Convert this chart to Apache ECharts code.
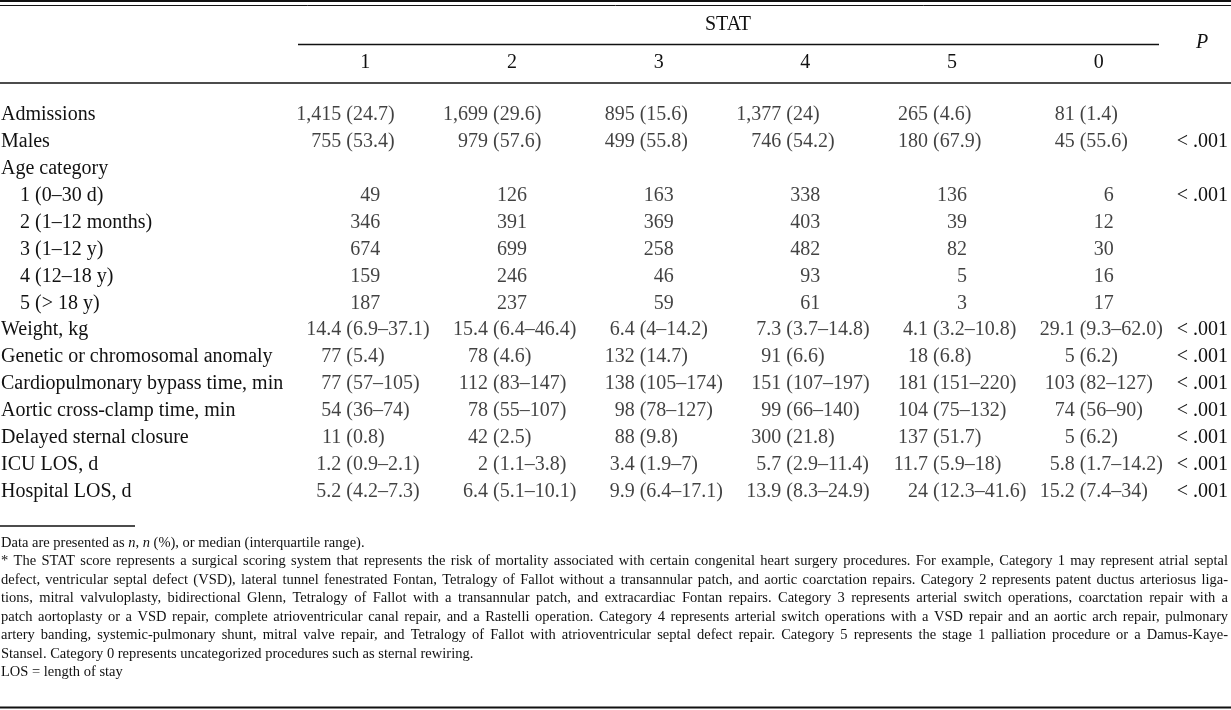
<!DOCTYPE html>
<html>
<head>
<meta charset="utf-8">
<title>STAT table</title>
<script src="https://cdn.jsdelivr.net/npm/echarts@6/dist/echarts.min.js"></script>
<style>
  html, body { margin: 0; padding: 0; background: #fff; }
  #chart { width: 1231px; height: 710px; }
</style>
</head>
<body>
<div id="chart"></div>
<script>
// column / row categories
var statCols = ['1', '2', '3', '4', '5', '0']
var rowLabels = [
  'Admissions', 'Males', 'Age category',
  '1 (0–30 d)', '2 (1–12 months)', '3 (1–12 y)', '4 (12–18 y)', '5 (> 18 y)',
  'Weight, kg', 'Genetic or chromosomal anomaly', 'Cardiopulmonary bypass time, min',
  'Aortic cross-clamp time, min', 'Delayed sternal closure', 'ICU LOS, d', 'Hospital LOS, d'
]
var ageGroups = ['1 (0–30 d)', '2 (1–12 months)', '3 (1–12 y)', '4 (12–18 y)', '5 (> 18 y)']

// cell values, one array per row (order of statCols)
var admissions = ['1,415 (24.7)', '1,699 (29.6)', '895 (15.6)', '1,377 (24)', '265 (4.6)', '81 (1.4)']
var males = ['755 (53.4)', '979 (57.6)', '499 (55.8)', '746 (54.2)', '180 (67.9)', '45 (55.6)']
var age1 = [49, 126, 163, 338, 136, 6]
var age2 = [346, 391, 369, 403, 39, 12]
var age3 = [674, 699, 258, 482, 82, 30]
var age4 = [159, 246, 46, 93, 5, 16]
var age5 = [187, 237, 59, 61, 3, 17]
var weight = ['14.4 (6.9–37.1)', '15.4 (6.4–46.4)', '6.4 (4–14.2)', '7.3 (3.7–14.8)', '4.1 (3.2–10.8)', '29.1 (9.3–62.0)']
var genetic = ['77 (5.4)', '78 (4.6)', '132 (14.7)', '91 (6.6)', '18 (6.8)', '5 (6.2)']
var bypass = ['77 (57–105)', '112 (83–147)', '138 (105–174)', '151 (107–197)', '181 (151–220)', '103 (82–127)']
var clamp = ['54 (36–74)', '78 (55–107)', '98 (78–127)', '99 (66–140)', '104 (75–132)', '74 (56–90)']
var delayed = ['11 (0.8)', '42 (2.5)', '88 (9.8)', '300 (21.8)', '137 (51.7)', '5 (6.2)']
var icuLos = ['1.2 (0.9–2.1)', '2 (1.1–3.8)', '3.4 (1.9–7)', '5.7 (2.9–11.4)', '11.7 (5.9–18)', '5.8 (1.7–14.2)']
var hospLos = ['5.2 (4.2–7.3)', '6.4 (5.1–10.1)', '9.9 (6.4–17.1)', '13.9 (8.3–24.9)', '24 (12.3–41.6)', '15.2 (7.4–34)']
var pValues = ['', '< .001', '', '< .001', '', '', '', '', '< .001', '< .001', '< .001', '< .001', '< .001', '< .001', '< .001']

var rowValues = [admissions, males, [], age1, age2, age3, age4, age5,
  weight, genetic, bypass, clamp, delayed, icuLos, hospLos]

var footnotes = [
  '* The STAT score represents a surgical scoring system that represents the risk of mortality associated with certain congenital heart surgery procedures. For example, Category 1 may represent atrial septal',
  'defect, ventricular septal defect (VSD), lateral tunnel fenestrated Fontan, Tetralogy of Fallot without a transannular patch, and aortic coarctation repairs. Category 2 represents patent ductus arteriosus liga-',
  'tions, mitral valvuloplasty, bidirectional Glenn, Tetralogy of Fallot with a transannular patch, and extracardiac Fontan repairs. Category 3 represents arterial switch operations, coarctation repair with a',
  'patch aortoplasty or a VSD repair, complete atrioventricular canal repair, and a Rastelli operation. Category 4 represents arterial switch operations with a VSD repair and an aortic arch repair, pulmonary',
  'artery banding, systemic-pulmonary shunt, mitral valve repair, and Tetralogy of Fallot with atrioventricular septal defect repair. Category 5 represents the stage 1 palliation procedure or a Damus-Kaye-',
  'Stansel. Category 0 represents uncategorized procedures such as sternal rewiring.',
  'LOS = length of stay'
]

var FONT = 'Liberation Serif'
var INK = '#111'

var myChart = echarts.init(document.getElementById('chart'), null, { renderer: 'canvas' })

// cells: "n (x)" strings are lined up on the opening bracket, plain counts right aligned
var leads = []
var tails = []
var counts = []
for (var r = 0; r < rowValues.length; r++) {
  for (var c = 0; c < rowValues[r].length; c++) {
    var v = rowValues[r][c]
    if (typeof v === 'number') {
      counts.push({ value: [c, r], cell: String(v) })
    } else {
      var k = v.indexOf(' (')
      leads.push({ value: [c, r], cell: v.slice(0, k) })
      tails.push({ value: [c, r], cell: v.slice(k + 1) })
    }
  }
}

// footnote lines, justified like the printed page
var noteSize = 14.5
var noteRight = 1228
var ctx = document.createElement('canvas').getContext('2d')
function measure (s, fs) {
  ctx.font = fs + 'px "' + FONT + '"'
  return ctx.measureText(s).width
}
var widest = 0
footnotes.forEach(function (l) { widest = Math.max(widest, measure(l, noteSize)) })
if (widest > noteRight - 6) noteSize = noteSize * (noteRight - 6) / widest

var noteTop = 543
var noteStep = 18.45
var graphics = []
function hline (x1, x2, y, w) {
  graphics.push({
    type: 'line', silent: true,
    shape: { x1: x1, y1: y, x2: x2, y2: y },
    style: { stroke: INK, lineWidth: w }
  })
}
function text (x, y, s, opts) {
  graphics.push({
    type: 'text', silent: true, x: x, y: y,
    style: Object.assign({
      text: s, fill: INK, font: '20px "' + FONT + '"',
      textAlign: 'center', textVerticalAlign: 'middle'
    }, opts || {})
  })
}

hline(0, 1231, 1, 2)
hline(0, 1231, 5.5, 1)
text(728, 25, 'STAT')
hline(298, 1159, 44.5, 1.5)
text(1202, 43, 'P', { font: 'italic 20px "' + FONT + '"' })
hline(0, 1231, 83, 1.5)
hline(0, 135, 526, 1.5)
hline(0, 1231, 707.5, 2)

// first note line with italic n
graphics.push({
  type: 'text', silent: true, x: 1, y: noteTop,
  style: {
    text: 'Data are presented as {i|n}, {i|n} (%), or median (interquartile range).',
    fill: INK, font: noteSize + 'px "' + FONT + '"',
    textAlign: 'left', textVerticalAlign: 'middle',
    rich: { i: { fontStyle: 'italic', fontSize: noteSize, fontFamily: FONT, fill: INK } }
  }
})

footnotes.forEach(function (line, i) {
  var y = noteTop + noteStep * (i + 1)
  var full = i < 5
  var words = line.split(' ')
  var ws = words.map(function (w) { return measure(w, noteSize) })
  var sum = ws.reduce(function (a, b) { return a + b }, 0)
  var gap = full ? (noteRight - 1 - sum) / (words.length - 1) : measure(' ', noteSize)
  var x = 1
  words.forEach(function (w, n) {
    graphics.push({
      type: 'text', silent: true, x: x, y: y,
      style: {
        text: w, fill: INK, font: noteSize + 'px "' + FONT + '"',
        textAlign: 'left', textVerticalAlign: 'middle'
      }
    })
    x += ws[n] + gap
  })
})

var cellLabel = {
  show: true,
  position: 'inside',
  color: INK,
  fontFamily: FONT,
  fontSize: 20,
  formatter: function (p) { return p.data.cell }
}
function cellSeries (name, data, align, dx) {
  return {
    name: name,
    type: 'scatter',
    symbolSize: 0,
    silent: true,
    label: Object.assign({}, cellLabel, { align: align, offset: [dx, 0] }),
    data: data
  }
}

var option = {
  animation: false,
  backgroundColor: '#fff',
  grid: {
    left: 292,
    right: 59,
    top: 101.5,
    bottom: 205,
    outerBoundsMode: 'none'
  },
  xAxis: {
    type: 'category',
    position: 'top',
    data: statCols,
    axisLine: { show: false },
    axisTick: { show: false },
    splitLine: { show: false },
    axisLabel: {
      interval: 0,
      margin: 39,
      verticalAlign: 'middle',
      color: INK,
      fontFamily: FONT,
      fontSize: 20
    }
  },
  yAxis: [{
    type: 'category',
    inverse: true,
    data: rowLabels,
    axisLine: { show: false },
    axisTick: { show: false },
    splitLine: { show: false },
    axisLabel: {
      interval: 0,
      align: 'left',
      margin: 291,
      color: INK,
      fontFamily: FONT,
      fontSize: 20,
      formatter: function (v) {
        return ageGroups.indexOf(v) >= 0 ? '{ind|' + v + '}' : v
      },
      rich: {
        ind: { padding: [0, 0, 0, 19], color: INK, fontFamily: FONT, fontSize: 20 }
      }
    }
  }, {
    type: 'category',
    inverse: true,
    position: 'right',
    data: rowLabels,
    axisLine: { show: false },
    axisTick: { show: false },
    splitLine: { show: false },
    axisLabel: {
      interval: 0,
      align: 'right',
      margin: 56,
      color: INK,
      fontFamily: FONT,
      fontSize: 20,
      formatter: function (v, i) { return pValues[i] }
    }
  }],
  series: [
    cellSeries('lead', leads, 'right', -24),
    cellSeries('tail', tails, 'left', -19),
    cellSeries('counts', counts, 'right', 15)
  ],
  graphic: graphics
}
myChart.setOption(option)
</script>
</body>
</html>
